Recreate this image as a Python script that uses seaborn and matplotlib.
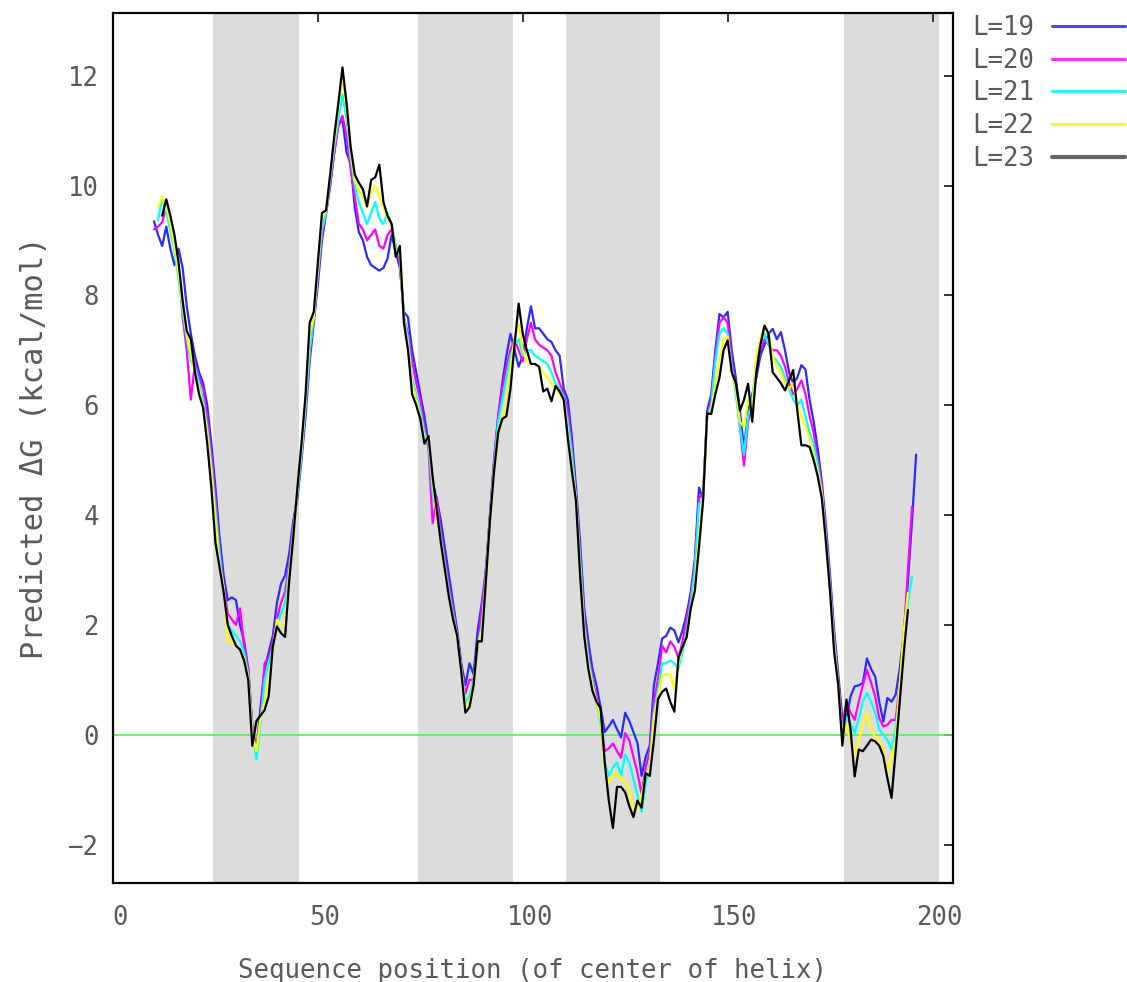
import matplotlib
matplotlib.use("Agg")
import matplotlib.pyplot as plt
import matplotlib.transforms as mtransforms
from matplotlib.lines import Line2D
import numpy as np
import pandas as pd
import seaborn as sns

# predicted dG per helix centre, one list per window length L
# (each list starts at the first possible centre position)
START = {"L=19": 10, "L=20": 10, "L=21": 11, "L=22": 11, "L=23": 12}

dg_l19 = [
    9.35, 9.1, 8.9, 9.25, 8.85, 8.55, 8.85, 8.5, 7.8, 7.3,
    6.9, 6.6, 6.4, 6.0, 5.3, 4.5, 3.6, 2.9, 2.45, 2.5,
    2.45, 2.0, 1.7, 1.2, 0.1, -0.3, 0.5, 1.2, 1.5, 1.8,
    2.4, 2.75, 2.9, 3.3, 3.9, 4.3, 5.0, 5.8, 6.8, 7.5,
    8.2, 9.0, 9.5, 10.0, 10.6, 11.1, 11.2, 10.6, 10.4, 9.6,
    9.15, 9.0, 8.7, 8.55, 8.5, 8.45, 8.5, 8.67, 9.1, 8.8,
    8.5, 7.7, 7.6, 7.0, 6.6, 6.2, 5.8, 5.3, 4.6, 4.3,
    3.9, 3.4, 2.9, 2.4, 1.9, 1.3, 0.9, 1.3, 1.1, 1.9,
    2.4, 3.0, 4.0, 5.0, 5.8, 6.4, 6.9, 7.3, 7.0, 6.7,
    6.9, 7.4, 7.8, 7.4, 7.4, 7.3, 7.2, 7.15, 7.0, 6.9,
    6.3, 6.1, 5.4, 4.5, 3.5, 2.3, 1.7, 1.2, 0.9, 0.5,
    0.05, 0.15, 0.27, 0.1, -0.05, 0.4, 0.25, 0.05, -0.15, -0.75,
    -0.4, -0.2, 0.9, 1.3, 1.75, 1.8, 1.95, 1.9, 1.68, 1.9,
    2.2, 2.6, 3.2, 4.5, 4.3, 5.9, 6.2, 7.0, 7.66, 7.6,
    7.7, 7.0, 6.5, 5.9, 5.2, 5.9, 6.2, 6.5, 6.9, 7.1,
    7.3, 7.39, 7.2, 7.33, 7.0, 6.6, 6.4, 6.5, 6.73, 6.65,
    6.1, 5.7, 5.2, 4.6, 3.8, 2.9, 1.9, 1.1, 0.3, 0.3,
    0.7, 0.88, 0.9, 0.94, 1.39, 1.2, 1.06, 0.6, 0.24, 0.67,
    0.6, 0.73, 1.2, 1.85, 2.8, 3.9, 5.1,
]

dg_l20 = [
    9.2, 9.25, 9.33, 9.6, 9.2, 8.9, 8.5, 7.6, 7.0, 6.1,
    6.76, 6.5, 6.3, 5.8, 5.1, 4.3, 3.4, 2.7, 2.2, 2.1,
    2.0, 2.3, 1.6, 1.2, 0.2, -0.3, 0.3, 1.3, 1.4, 1.7,
    2.1, 2.4, 2.6, 3.1, 3.8, 4.4, 5.1, 6.0, 6.9, 7.6,
    8.3, 9.1, 9.5, 10.0, 10.6, 11.1, 11.27, 10.9, 10.3, 9.8,
    9.3, 9.2, 9.0, 9.1, 9.2, 8.9, 8.85, 9.1, 9.2, 8.9,
    8.6, 7.6, 7.3, 6.8, 6.4, 6.1, 5.6, 5.2, 3.85, 4.3,
    3.7, 3.2, 2.7, 2.3, 1.8, 1.2, 0.75, 1.0, 1.0, 1.6,
    2.3, 3.0, 4.0, 5.0, 5.8, 6.3, 6.7, 7.0, 7.2, 7.0,
    6.8, 7.2, 7.5, 7.2, 7.1, 7.05, 7.0, 6.9, 6.6, 6.4,
    6.2, 5.9, 5.2, 4.3, 3.3, 2.1, 1.5, 1.0, 0.7, 0.3,
    -0.3, -0.25, -0.16, -0.3, -0.42, 0.03, -0.1, -0.4, -0.69, -1.08,
    -0.6, -0.3, 0.6, 1.0, 1.62, 1.5, 1.7, 1.6, 1.4, 1.7,
    2.1, 2.5, 3.1, 4.3, 4.4, 5.8, 6.1, 6.9, 7.5, 7.6,
    7.5, 6.8, 6.3, 5.6, 4.9, 5.7, 6.0, 6.7, 7.0, 7.2,
    7.1, 7.0, 7.0, 6.9, 6.7, 6.4, 6.2, 6.3, 6.45, 6.2,
    5.8, 5.5, 5.0, 4.5, 3.7, 2.8, 1.8, 1.0, 0.2, 0.58,
    0.4, 0.27, 0.6, 0.9, 1.18, 0.95, 0.7, 0.3, 0.15, 0.18,
    0.27, 0.27, 0.9, 1.8, 3.0, 4.15,
]

dg_l21 = [
    9.36, 9.79, 9.5, 9.2, 8.8, 8.3, 7.7, 7.2, 6.8, 6.7,
    6.4, 6.1, 5.6, 4.9, 4.1, 3.3, 2.6, 2.0, 1.9, 1.8,
    1.7, 1.5, 1.1, 0.1, -0.45, 0.2, 1.0, 1.3, 1.6, 2.0,
    2.2, 2.4, 3.0, 3.7, 4.4, 5.1, 6.0, 7.0, 7.6, 8.4,
    9.2, 9.5, 10.1, 10.7, 11.2, 11.66, 11.2, 10.5, 10.0, 9.7,
    9.5, 9.3, 9.5, 9.7, 9.4, 9.3, 9.5, 9.3, 8.9, 8.7,
    7.6, 7.2, 6.5, 6.2, 5.9, 5.5, 5.3, 4.4, 4.1, 3.6,
    3.1, 2.6, 2.2, 1.8, 1.2, 0.6, 0.7, 1.0, 1.6, 2.0,
    2.9, 3.9, 4.9, 5.7, 6.1, 6.5, 6.9, 7.1, 7.2, 6.9,
    7.0, 7.0, 6.9, 6.85, 6.8, 6.75, 6.6, 6.4, 6.3, 6.15,
    5.7, 5.1, 4.3, 3.2, 2.0, 1.4, 0.95, 0.6, 0.2, -0.5,
    -0.75, -0.6, -0.5, -0.75, -0.36, -0.5, -0.8, -1.1, -1.4, -0.9,
    -0.5, 0.4, 0.8, 1.3, 1.3, 1.35, 1.3, 1.2, 1.5, 1.9,
    2.4, 3.0, 4.2, 4.3, 5.8, 6.0, 6.8, 7.3, 7.4, 7.3,
    6.7, 6.2, 5.6, 5.1, 5.8, 6.1, 6.8, 7.1, 7.3, 7.1,
    6.9, 6.8, 6.7, 6.5, 6.3, 6.1, 6.0, 6.1, 5.8, 5.5,
    5.3, 4.9, 4.4, 3.6, 2.7, 1.7, 0.9, 0.0, 0.33, 0.2,
    0.03, 0.3, 0.6, 0.76, 0.6, 0.4, 0.1, 0.0, -0.1, -0.27,
    0.1, 0.8, 1.8, 2.4, 2.88,
]

dg_l22 = [
    9.6, 9.79, 9.6, 9.3, 8.9, 8.4, 7.8, 7.3, 6.9, 6.6,
    6.3, 6.0, 5.5, 4.8, 3.9, 3.1, 2.7, 1.7, 1.7, 1.6,
    1.55, 1.4, 1.05, 0.0, -0.3, 0.3, 0.6, 1.0, 1.5, 2.1,
    2.0, 2.0, 2.9, 3.6, 4.5, 5.2, 6.1, 7.3, 7.6, 8.5,
    9.4, 9.55, 10.2, 10.8, 11.4, 11.98, 11.4, 10.6, 10.1, 9.9,
    9.8, 9.6, 9.9, 10.0, 9.8, 9.6, 9.4, 9.3, 8.8, 8.8,
    7.5, 7.1, 6.4, 6.1, 5.8, 5.4, 5.4, 4.6, 4.0, 3.5,
    3.0, 2.5, 2.1, 1.8, 1.2, 0.5, 0.6, 0.9, 1.6, 1.9,
    2.8, 3.9, 4.8, 5.5, 5.8, 6.0, 6.7, 7.2, 7.5, 7.0,
    6.8, 6.75, 6.75, 6.7, 6.6, 6.5, 6.4, 6.3, 6.2, 6.1,
    5.5, 4.9, 4.3, 3.0, 1.9, 1.3, 0.9, 0.6, 0.3, -0.6,
    -0.88, -0.75, -0.69, -0.8, -0.88, -1.0, -1.33, -1.35, -1.1, -0.75,
    -0.6, 0.3, 0.7, 1.07, 1.1, 1.1, 0.83, 1.3, 1.6, 1.8,
    2.3, 2.7, 3.6, 4.3, 5.8, 5.9, 6.4, 6.8, 7.2, 7.25,
    6.6, 6.3, 5.7, 5.6, 6.1, 5.9, 6.9, 7.2, 7.45, 7.3,
    6.9, 6.7, 6.6, 6.4, 6.3, 6.4, 6.0, 5.8, 5.6, 5.4,
    5.1, 4.8, 4.4, 3.5, 2.6, 1.6, 0.9, -0.1, 0.2, -0.1,
    -0.39, -0.1, 0.2, 0.39, 0.1, -0.05, -0.1, -0.3, -0.7, -0.4,
    -0.1, 0.9, 1.9, 2.58,
]

dg_l23 = [
    9.45, 9.75, 9.45, 9.1, 8.6, 7.9, 7.35, 7.2, 6.6, 6.2,
    5.95, 5.3, 4.5, 3.5, 3.05, 2.6, 2.0, 1.8, 1.62, 1.55,
    1.35, 1.0, -0.2, 0.25, 0.35, 0.45, 0.7, 1.6, 1.97, 1.85,
    1.78, 2.8, 3.6, 4.5, 5.3, 6.2, 7.5, 7.7, 8.6, 9.5,
    9.55, 10.2, 10.9, 11.5, 12.15, 11.5, 10.7, 10.2, 10.05, 9.93,
    9.62, 10.1, 10.15, 10.38, 9.7, 9.45, 9.3, 8.7, 8.9, 7.5,
    7.0, 6.2, 6.0, 5.75, 5.3, 5.44, 4.7, 4.1, 3.5, 3.0,
    2.5, 2.1, 1.8, 1.15, 0.4, 0.5, 0.9, 1.7, 1.7, 2.8,
    3.9, 4.8, 5.5, 5.75, 5.8, 6.3, 7.1, 7.85, 7.3, 7.0,
    6.75, 6.75, 6.7, 6.25, 6.3, 6.07, 6.35, 6.25, 6.1, 5.4,
    4.8, 4.25, 2.9, 1.8, 1.2, 0.8, 0.6, 0.48, -0.5, -1.2,
    -1.7, -0.95, -0.95, -1.05, -1.3, -1.5, -1.2, -1.33, -0.7, -0.75,
    -0.1, 0.65, 0.78, 0.84, 0.6, 0.42, 1.4, 1.6, 1.78, 2.3,
    2.62, 3.4, 4.25, 5.85, 5.84, 6.2, 6.5, 7.0, 7.18, 6.6,
    6.4, 5.9, 6.1, 6.39, 5.7, 6.6, 7.1, 7.45, 7.3, 6.6,
    6.5, 6.4, 6.27, 6.45, 6.64, 5.9, 5.27, 5.27, 5.24, 5.0,
    4.7, 4.3, 3.5, 2.6, 1.5, 0.9, -0.2, 0.64, 0.09, -0.76,
    -0.27, -0.3, -0.2, -0.09, -0.12, -0.2, -0.39, -0.8, -1.15, -0.3,
    0.6, 1.5, 2.27,
]

SERIES = {"L=19": dg_l19, "L=20": dg_l20, "L=21": dg_l21,
          "L=22": dg_l22, "L=23": dg_l23}
COLORS = {"L=19": "#2a2aff", "L=20": "#ff00ff", "L=21": "#00ffff",
          "L=22": "#ffff00", "L=23": "#000000"}
LEGEND_COLORS = ["#4848f0", "#ff30ff", "#30f0f0", "#f8f830", "#666666"]

# shaded regions (predicted transmembrane segments)
bands = [(24.5, 45.5), (74.5, 97.5), (110.5, 133.5), (178.5, 201.5)]

xticks = [0, 50, 100, 150, 200]
yticks = [-2, 0, 2, 4, 6, 8, 10, 12]

TEXT_GRAY = "#5a5a5a"

rows = []
for name, vals in SERIES.items():
    for i, v in enumerate(vals):
        rows.append({"L": name, "pos": START[name] + i, "dG": v})
df = pd.DataFrame(rows)

sns.set_theme(style="white")
plt.rcParams["font.family"] = ["DejaVu Sans Mono", "DejaVu Sans"]

fig = plt.figure(figsize=(11.27, 9.82), dpi=100)
ax = fig.add_axes([113 / 1127, 1 - 883 / 982, 840 / 1127, 870.5 / 982])

for x0, x1 in bands:
    ax.axvspan(x0, x1, color="#dcdcdc", lw=0, zorder=0)
ax.axhline(0, color="#5ee85e", lw=1.2, zorder=1)

sns.lineplot(data=df, x="pos", y="dG", hue="L", hue_order=list(SERIES),
             palette=COLORS, estimator=None, sort=False, lw=1.6,
             legend=False, ax=ax, zorder=2)

ax.set_xlim(0, 205)
ax.set_ylim(-2.7, 13.15)
ax.set_xticks(xticks)
ax.set_yticks(yticks)
ax.set_yticklabels([str(t).replace("-", "\u2212") for t in yticks])

for s in ax.spines.values():
    s.set_color("black")
    s.set_linewidth(1.6)
ax.tick_params(direction="in", length=6.5, width=1.4, color="#333333",
               top=True, right=True, labelsize=18.5, labelcolor=TEXT_GRAY)
ax.tick_params(axis="x", pad=16)
ax.tick_params(axis="y", pad=10)

# gnuplot puts x labels slightly right of the tick
shift = mtransforms.ScaledTranslation(7 / 100, 0, fig.dpi_scale_trans)
for lab in ax.get_xticklabels():
    lab.set_transform(lab.get_transform() + shift)

ax.set_xlabel("Sequence position (of center of helix)", fontsize=18.5,
              color=TEXT_GRAY, labelpad=19)
ax.set_ylabel("Predicted \u0394G (kcal/mol)", fontsize=22,
              color=TEXT_GRAY, labelpad=14)

handles = [Line2D([0], [0], color=c, lw=3 if i == 4 else 2.2)
           for i, c in enumerate(LEGEND_COLORS)]
leg = ax.legend(handles, list(SERIES), loc="upper left",
                bbox_to_anchor=(972 / 1127, 1 - 15 / 982),
                bbox_transform=fig.transFigure, markerfirst=False,
                frameon=False, fontsize=18.5, handlelength=2.85,
                handletextpad=0.7, labelspacing=0.26, borderpad=0,
                borderaxespad=0)
for t in leg.get_texts():
    t.set_color(TEXT_GRAY)

fig.savefig("out.png", dpi=100, facecolor="white")
